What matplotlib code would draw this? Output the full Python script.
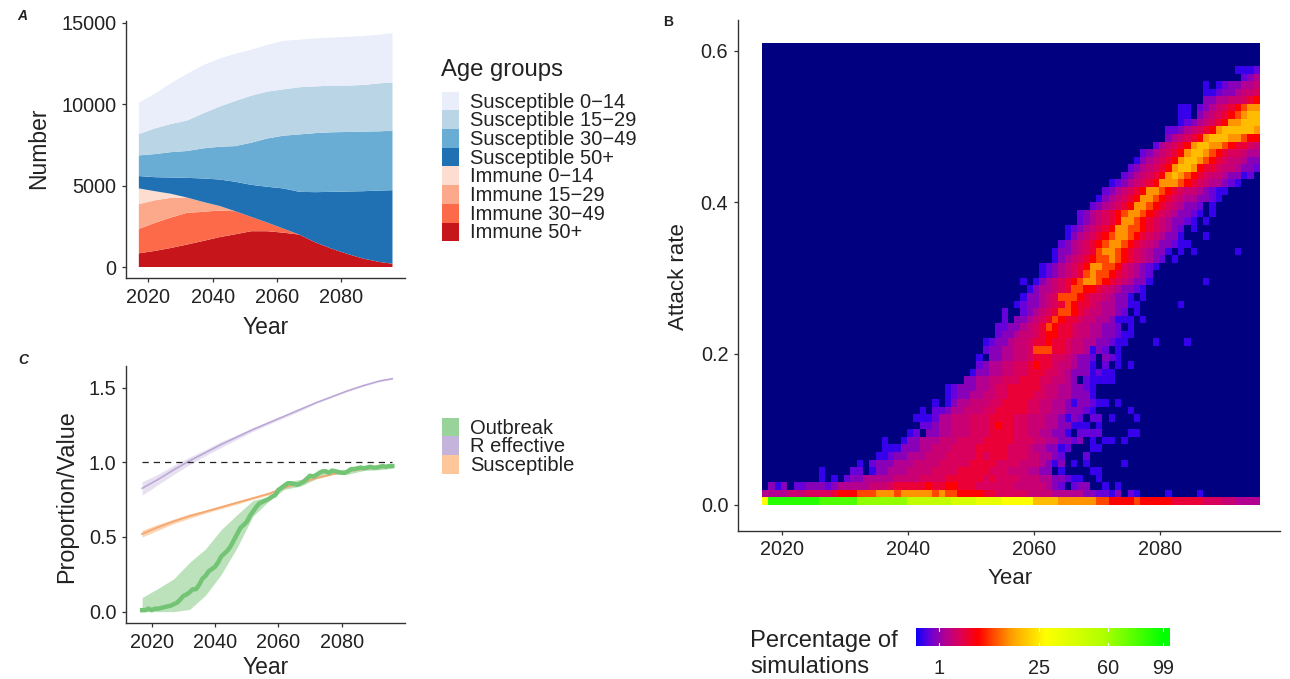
import numpy as np
import matplotlib
matplotlib.use("Agg")
import matplotlib.pyplot as plt
from matplotlib.colors import LinearSegmentedColormap, FuncNorm
from matplotlib.patches import Rectangle

plt.rcParams["font.family"] = ["Liberation Sans", "DejaVu Sans"]

W, H = 1290, 679
INK = "#222222"

# panel A, stacked groups, bottom to top
years = [2017, 2022, 2027, 2032, 2037, 2042, 2047, 2052, 2057, 2062, 2067, 2072, 2077, 2082, 2087, 2092, 2096]
immune_50 = [840, 990, 1170, 1380, 1600, 1830, 2010, 2200, 2200, 2110, 1990, 1510, 1130, 800, 510, 310, 200]
immune_30_49 = [1500, 1720, 1870, 1950, 1790, 1640, 1420, 880, 530, 250, 0, 0, 0, 0, 0, 0, 0]
immune_15_29 = [1520, 1390, 1210, 940, 610, 290, 0, 0, 0, 0, 0, 0, 0, 0, 0, 0, 0]
immune_0_14 = [970, 560, 250, 0, 0, 0, 0, 0, 0, 0, 0, 0, 0, 0, 0, 0, 0]
susc_50 = [760, 860, 1000, 1210, 1440, 1620, 1810, 1970, 2200, 2470, 2630, 3090, 3490, 3840, 4150, 4390, 4520]
susc_30_49 = [1270, 1420, 1560, 1650, 1850, 2010, 2190, 2590, 2970, 3240, 3530, 3630, 3660, 3660, 3660, 3640, 3660]
susc_15_29 = [1310, 1580, 1730, 1870, 2150, 2460, 2770, 2890, 2880, 2850, 2900, 2870, 2870, 2850, 2870, 2950, 2970]
susc_0_14 = [1930, 2130, 2510, 2870, 2960, 2950, 2900, 2820, 2870, 2980, 2920, 2950, 2950, 3000, 3010, 2990, 3020]
stack_colors = ["#C7161B", "#FC6A49", "#FCA98B", "#FCDDCF", "#2070B4", "#69ADD4", "#BAD5E6", "#EAEEFB"]
age_labels = ["Susceptible 0\u221214", "Susceptible 15\u221229", "Susceptible 30\u221249", "Susceptible 50+",
              "Immune 0\u221214", "Immune 15\u221229", "Immune 30\u221249", "Immune 50+"]
age_colors = ["#EAEEFB", "#BAD5E6", "#69ADD4", "#2070B4", "#FCDDCF", "#FCA98B", "#FC6A49", "#C7161B"]

# panel C
r_eff = [0.826, 0.885, 0.95, 1.01, 1.065, 1.12, 1.17, 1.22, 1.265, 1.31, 1.355, 1.40, 1.44, 1.48, 1.515, 1.545, 1.56]
r_eff_low = [0.78, 0.85, 0.92, 0.985, 1.045, 1.10, 1.155, 1.208, 1.255, 1.30, 1.345, 1.395, 1.435, 1.475, 1.51, 1.54, 1.555]
r_eff_high = [0.87, 0.92, 0.98, 1.035, 1.085, 1.14, 1.185, 1.232, 1.275, 1.32, 1.365, 1.405, 1.445, 1.485, 1.52, 1.55, 1.565]
susc_prop = [0.52, 0.565, 0.605, 0.64, 0.67, 0.70, 0.73, 0.76, 0.79, 0.83, 0.86, 0.895, 0.92, 0.94, 0.955, 0.97, 0.98]
susc_low = [0.50, 0.545, 0.59, 0.625, 0.66, 0.69, 0.72, 0.752, 0.782, 0.822, 0.853, 0.89, 0.915, 0.935, 0.95, 0.965, 0.97]
susc_high = [0.545, 0.585, 0.62, 0.655, 0.68, 0.71, 0.74, 0.768, 0.798, 0.838, 0.867, 0.90, 0.925, 0.945, 0.96, 0.975, 0.99]
outbreak = [0.01, 0.01, 0.02, 0.01, 0.02, 0.02, 0.025, 0.03, 0.035, 0.04,
            0.05, 0.06, 0.08, 0.105, 0.115, 0.13, 0.15, 0.15, 0.18, 0.22,
            0.24, 0.27, 0.285, 0.30, 0.33, 0.37, 0.39, 0.41, 0.44, 0.48,
            0.52, 0.56, 0.58, 0.60, 0.64, 0.67, 0.70, 0.725, 0.735, 0.745,
            0.755, 0.77, 0.78, 0.815, 0.83, 0.845, 0.86, 0.86, 0.855, 0.85,
            0.86, 0.87, 0.89, 0.91, 0.905, 0.915, 0.93, 0.94, 0.94, 0.93,
            0.945, 0.94, 0.935, 0.93, 0.93, 0.94, 0.955, 0.955, 0.96, 0.965,
            0.96, 0.965, 0.97, 0.965, 0.965, 0.97, 0.975, 0.97, 0.975, 0.975]
outbreak_low = [0, 0, 0, 0.015, 0.11, 0.25, 0.43, 0.64, 0.74, 0.82, 0.84, 0.89, 0.92, 0.92, 0.945, 0.95, 0.96]
outbreak_high = [0.095, 0.155, 0.22, 0.33, 0.42, 0.55, 0.65, 0.745, 0.77, 0.87, 0.885, 0.935, 0.95, 0.95, 0.975, 0.98, 0.99]
c_labels = ["Outbreak", "R effective", "Susceptible"]
c_colors = ["#98D49A", "#C4B4DC", "#FDC79B"]

# panel B, one string per attack rate bin (0.01 wide), first year index then one level per year
heat_years = list(range(2017, 2096))
# level digit 0-9, a-i -> percentage of simulations
level_pct = [0, 0.1, 0.36, 0.8, 1.6, 2.4, 3.2, 4.5, 6.5, 10, 14.5, 18.5, 27.7, 42, 64, 90, 50, 35, 80]
heat_start = [0, 0, 1, 9, 9, 15, 18, 19, 19, 23,
              25, 24, 25, 27, 29, 29, 32, 33, 34, 34,
              35, 35, 37, 37, 38, 38, 40, 41, 42, 41,
              44, 44, 46, 46, 47, 48, 48, 50, 50, 52,
              53, 54, 55, 57, 58, 59, 60, 62, 64, 64,
              66, 66, 66, 70, 70, 70, 76, 75]
heat_cells = [
    "cffffffffiiiiiieeeeeeeegggggggddddhhhhcccccbbbbaaaaaa9988889888887777766655 4444".replace(" ", ""),
    "444455566667888999aaa9aaaaa9a998888776666655554444433221 3.21....1....1".replace(" ", ""),
    "313.2233323444445556777778778877766666655555432.233..1.1",
    "1.1.2334444455556666777777676666555443321 1..1".replace(" ", ""),
    "1....22.1334445555666677777666555443 3.1....11".replace(" ", ""),
    "1.233344455556666677776666555 4313.1.1.....1".replace(" ", ""),
    "112334445556666676777666554432...2",
    "1113334455566667777766654433 12...11".replace(" ", ""),
    "1..133444555666677777666554433 23.1.11.1".replace(" ", ""),
    "12.334455566677776655443 31.2222....11".replace(" ", ""),
    "22344555666787766555 4433111.1".replace(" ", ""),
    "1112445556667777665554431 32.22.1...1".replace(" ", ""),
    "1.22344555667777766554433321.....1",
    "1.134455566777766554431332 11.1".replace(" ", ""),
    "123344556677776655443331",
    "123334456677777655443321",
    "334455666777665543.21111",
    "133445566777665433 31211".replace(" ", ""),
    "234455667877655433 1.2.1.1".replace(" ", ""),
    "1.3344556777665433 2.321.".replace(" ", ""),
    "2334455699977655 4132.1".replace(" ", ""),
    "12334556778776554433211",
    "23345567887765544 33211".replace(" ", ""),
    "22334567987765544 332.1".replace(" ", ""),
    "2.334567987765544 3111".replace(" ", ""),
    "2..23456799876554432.1",
    "12334567987765443 311".replace(" ", ""),
    "13345699987665433 1.1".replace(" ", ""),
    "134456799887654332 1".replace(" ", ""),
    "1.13456789aa987654331",
    "12345679a998765432",
    "12345678aa998654321",
    "134567899a98765432.1",
    "13345679aa987654331.1.1",
    "23456789aa98765433211",
    "13456789aa987654331",
    "12345678aa998765432.1",
    "2345678aa9876543321",
    "23456789aa9876543321.1",
    "2345678aa987654332.1",
    "1345678aa98765443321",
    "2345678aa98765543211",
    "12345678aaa9876544321",
    "2345678aba98765543312.",
    "2345678abba87765 54332".replace(" ", ""),
    "1345678abba987655433",
    "2345678abba98766544",
    "245678abbaa987765",
    "345678abbbaa988",
    "22345678abbbbba",
    "12345678aabbb",
    "11.3456789abb",
    "11.23456789aa",
    "334455678",
    "112334556",
    "1.1233445",
    "234",
    "1112",
]
# stray low cells right of the band
speck_cols = [75, 70, 70, 70, 67, 62, 60, 66]
speck_rows = [33, 29, 35, 37, 21, 21, 24, 26]
bar_labels = [1, 25, 60, 99]


def px_axes(left, top, right, bottom):
    return fig.add_axes([left / W, 1 - bottom / H, (right - left) / W, (bottom - top) / H])


def style_axes(ax, xticks):
    for side in ["top", "right"]:
        ax.spines[side].set_visible(False)
    for side in ["left", "bottom"]:
        ax.spines[side].set_linewidth(1.0)
        ax.spines[side].set_color("#333333")
    ax.set_xticks(xticks)
    ax.tick_params(labelsize=14.3, colors="#333333", labelcolor=INK, length=3, width=0.9, pad=4)


def fig_text(x, y, s, **kw):
    kw.setdefault("color", INK)
    kw.setdefault("va", "center")
    fig.text(x / W, 1 - y / H, s, **kw)


def legend_rows(labels, colors, x, y0, step, size=14.5):
    for i, (lab, col) in enumerate(zip(labels, colors)):
        y = y0 + i * step
        fig.add_artist(Rectangle((x / W, 1 - (y + step / 2) / H), 17 / W, step / H,
                                 transform=fig.transFigure, fc=col, ec="none"))
        fig_text(x + 28, y + 1, lab, fontsize=size)


fig = plt.figure(figsize=(W / 100, H / 100), dpi=100)
xt = [2020, 2040, 2060, 2080]

# A
ax_a = px_axes(126, 21, 405, 278)
ax_a.stackplot(years, immune_50, immune_30_49, immune_15_29, immune_0_14,
               susc_50, susc_30_49, susc_15_29, susc_0_14, colors=stack_colors, linewidth=0)
ax_a.set_xlim(2013, 2099.9)
ax_a.set_ylim(-676, 15120)
style_axes(ax_a, xt)
ax_a.set_yticks([0, 5000, 10000, 15000])
fig_text(266, 327, "Year", fontsize=16.5, ha="center")
fig_text(39, 148, "Number", fontsize=16.5, ha="center", rotation=90)
fig_text(441, 70, "Age groups", fontsize=17.2)
legend_rows(age_labels, age_colors, 442, 101, 18.7)
fig_text(17, 16, "A", fontsize=10, fontweight="bold", fontstyle="italic")

# C
ax_c = px_axes(126.3, 366, 405, 623.3)
ox = np.arange(2017, 2017 + len(outbreak))
ax_c.fill_between(years, r_eff_low, r_eff_high, color="#E6E0F0", lw=0)
ax_c.fill_between(years, susc_low, susc_high, color="#FBD5B5", lw=0)
ax_c.fill_between(years, outbreak_low, outbreak_high, color="#BCE2BB", lw=0)
ax_c.plot(years, r_eff, color="#B9A5D6", lw=1.1)
ax_c.plot(years, susc_prop, color="#F5A76F", lw=1.3)
ax_c.plot(ox, outbreak, color="#74C476", lw=3.2)
ax_c.plot([years[0], years[-1]], [1, 1], color="#222222", lw=0.9, dashes=(5, 4))
ax_c.set_xlim(2012, 2100)
ax_c.set_ylim(-0.078, 1.645)
style_axes(ax_c, xt)
ax_c.set_yticks([0, 0.5, 1.0, 1.5])
fig_text(266, 668, "Year", fontsize=16.5, ha="center")
fig_text(67, 497, "Proportion/Value", fontsize=16.8, ha="center", rotation=90)
legend_rows(c_labels, c_colors, 442, 427, 18.7)
fig_text(18, 360, "C", fontsize=10, fontweight="bold", fontstyle="italic")

# B
t_stops = [0, 0.06, 0.127, 0.19, 0.255, 0.39, 0.526, 0.76, 1]
c_stops = ["#0000FF", "#6A00D8", "#B5008F", "#E00050", "#FF0000", "#FFA000", "#FFFF00", "#B0FF00", "#00FF00"]
cmap = LinearSegmentedColormap.from_list("pct", list(zip(t_stops, c_stops)), N=512)
cmap.set_bad("#000080")
norm = FuncNorm((np.sqrt, np.square), vmin=0, vmax=100)

grid = np.zeros((61, len(heat_years)))
for row, (start, cells) in enumerate(zip(heat_start, heat_cells)):
    for k, ch in enumerate(cells):
        if ch != "." and start + k < len(heat_years):
            grid[row, start + k] = level_pct[int(ch, 36)]
for c, r in zip(speck_cols, speck_rows):
    grid[r, c] = level_pct[1]

ax_b = px_axes(738, 20, 1280, 530.7)
x_edges = np.append(heat_years, heat_years[-1] + 1) - 0.1
y_edges = np.arange(grid.shape[0] + 1) * 0.01
ax_b.pcolormesh(x_edges, y_edges, np.ma.masked_equal(grid, 0), cmap=cmap, norm=norm,
                edgecolors="none", antialiased=False, rasterized=True)
ax_b.set_xlim(2013.06, 2099.1)
ax_b.set_ylim(-0.034, 0.6407)
style_axes(ax_b, xt)
ax_b.set_yticks([0, 0.2, 0.4, 0.6])
fig_text(1010, 578, "Year", fontsize=16, ha="center")
fig_text(679, 277, "Attack rate", fontsize=16, ha="center", rotation=90)
fig_text(663, 22, "B", fontsize=10, fontweight="bold")

# colour bar, on the square root scale of the fill
ax_bar = px_axes(916, 628, 1170, 646)
bar_lo, bar_hi = 0.08, 10.24
gradient = np.linspace(bar_lo, bar_hi, 256).reshape(1, -1) ** 2
ax_bar.imshow(gradient, cmap=cmap, norm=norm, aspect="auto", extent=[bar_lo, bar_hi, 0, 1])
ax_bar.set_xlim(bar_lo, bar_hi)
for spine in ax_bar.spines.values():
    spine.set_visible(False)
ax_bar.set_yticks([])
ax_bar.set_xticks([np.sqrt(v) for v in bar_labels])
ax_bar.set_xticklabels([str(v) for v in bar_labels])
ax_bar.tick_params(length=0, labelsize=14.3, labelcolor=INK, pad=9)
for v in bar_labels:
    ax_bar.plot([np.sqrt(v)] * 2, [0, 0.18], color="white", lw=0.8)
    ax_bar.plot([np.sqrt(v)] * 2, [0.82, 1], color="white", lw=0.8)
ax_bar.set_ylim(0, 1)
fig_text(750, 641, "Percentage of", fontsize=17.1)
fig_text(750, 667, "simulations", fontsize=17.1)

fig.savefig("out.png", dpi=100)
